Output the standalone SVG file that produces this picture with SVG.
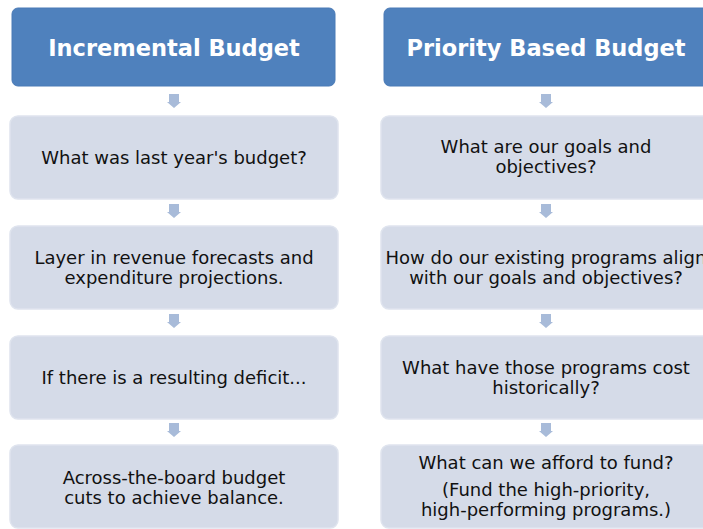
<svg xmlns="http://www.w3.org/2000/svg" width="703" height="529" viewBox="0 0 703 529">
<style>
.hdr{fill:#4f81bd;stroke:#4a7ab6;stroke-width:1}
.box{fill:#d5dbe8;stroke:#dfe4ee;stroke-width:1.5}
.ht{font-family:"DejaVu Sans",sans-serif;font-weight:bold;font-size:22.5px;fill:#ffffff;text-anchor:middle}
.bt{font-family:"DejaVu Sans",sans-serif;font-size:18px;fill:#111111;text-anchor:middle}
.arr{fill:#a8bbd9}
</style>
<defs>
<path id="dn" d="M-5,-13 H5 V-5 H7 L0,1 L-7,-5 H-5 Z"/>
</defs>
<g id="connectors">
<use href="#dn" class="arr" x="174" y="107"/>
<use href="#dn" class="arr" x="174" y="217"/>
<use href="#dn" class="arr" x="174" y="327"/>
<use href="#dn" class="arr" x="174" y="436"/>
<use href="#dn" class="arr" x="546" y="107"/>
<use href="#dn" class="arr" x="546" y="217"/>
<use href="#dn" class="arr" x="546" y="327"/>
<use href="#dn" class="arr" x="546" y="436"/>
</g>
<g id="inc-header"><rect class="hdr" x="12" y="8" width="323" height="78" rx="6"/><text class="ht" x="174" y="56">Incremental Budget</text></g>
<g id="inc-1"><rect class="box" x="10" y="116" width="328" height="83" rx="8"/><text class="bt" x="174" y="164">What was last year's budget?</text></g>
<g id="inc-2"><rect class="box" x="10" y="226" width="328" height="83" rx="8"/><text class="bt" x="174" y="264">Layer in revenue forecasts and</text><text class="bt" x="174" y="284">expenditure projections.</text></g>
<g id="inc-3"><rect class="box" x="10" y="336" width="328" height="83" rx="8"/><text class="bt" x="174" y="384">If there is a resulting deficit...</text></g>
<g id="inc-4"><rect class="box" x="10" y="445" width="328" height="83" rx="8"/><text class="bt" x="174" y="484">Across-the-board budget</text><text class="bt" x="174" y="504">cuts to achieve balance.</text></g>
<g id="pbb-header"><rect class="hdr" x="384" y="8" width="325" height="78" rx="6"/><text class="ht" x="546" y="56">Priority Based Budget</text></g>
<g id="pbb-1"><rect class="box" x="381" y="116" width="330" height="83" rx="8"/><text class="bt" x="546" y="153">What are our goals and</text><text class="bt" x="546" y="173">objectives?</text></g>
<g id="pbb-2"><rect class="box" x="381" y="226" width="330" height="83" rx="8"/><text class="bt" x="546" y="264">How do our existing programs align</text><text class="bt" x="546" y="284">with our goals and objectives?</text></g>
<g id="pbb-3"><rect class="box" x="381" y="336" width="330" height="83" rx="8"/><text class="bt" x="546" y="374">What have those programs cost</text><text class="bt" x="546" y="394">historically?</text></g>
<g id="pbb-4"><rect class="box" x="381" y="445" width="330" height="83" rx="8"/><text class="bt" x="546" y="469">What can we afford to fund?</text><text class="bt" x="546" y="496">(Fund the high-priority,</text><text class="bt" x="546" y="516">high-performing programs.)</text></g>
</svg>
